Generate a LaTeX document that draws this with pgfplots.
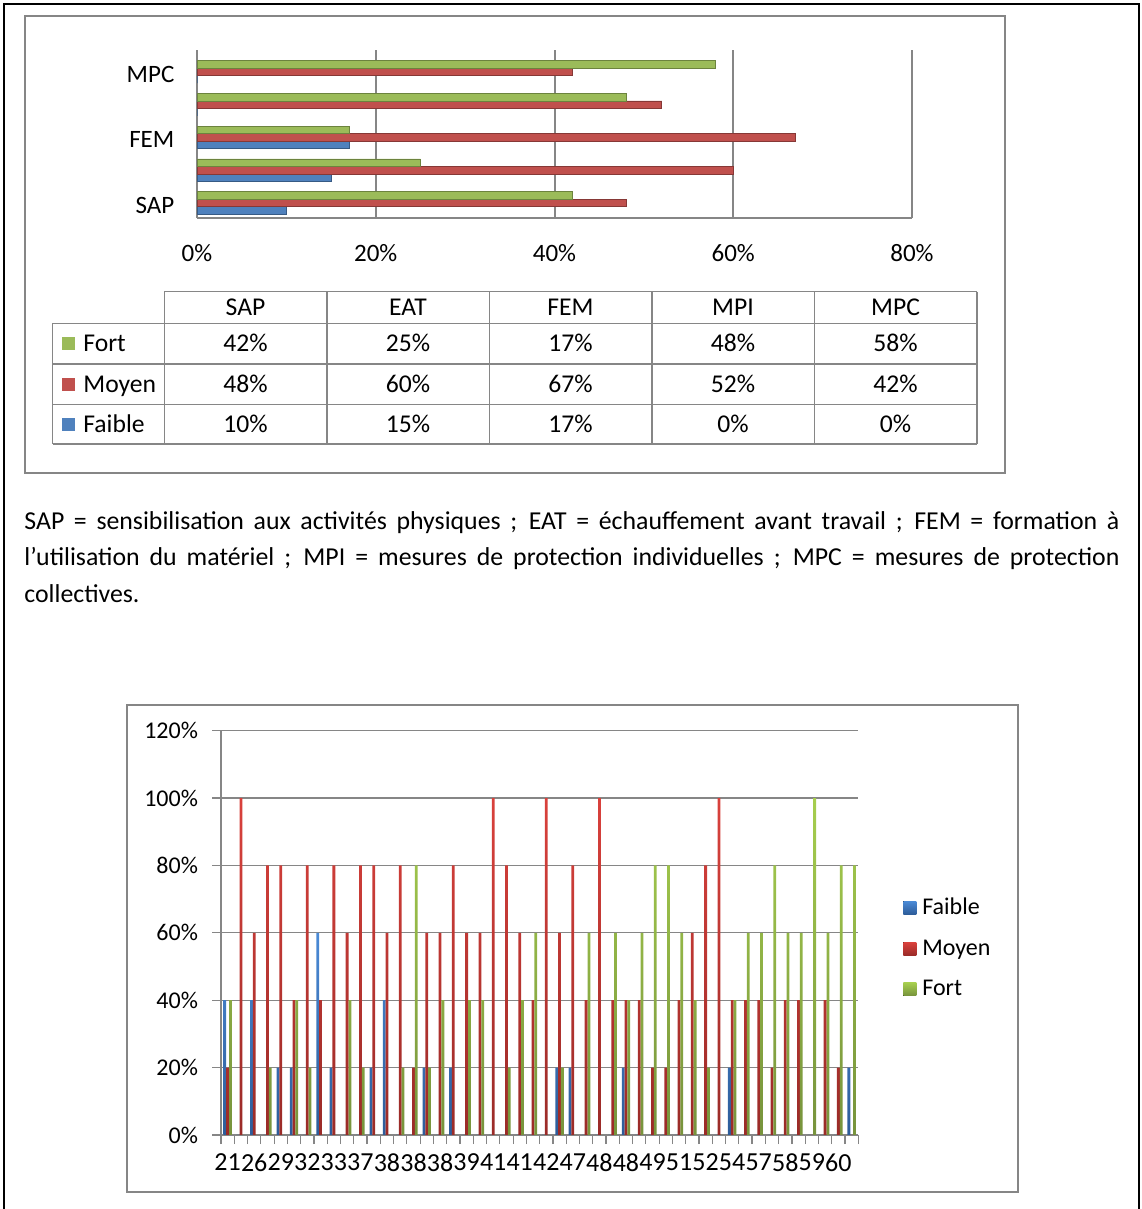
\documentclass[border=0pt]{standalone}
\usepackage{pgfplots}
\usepackage{pgfplotstable}
\usepackage{fontspec}
\setmainfont{Carlito}
\pgfplotsset{compat=1.18}

\definecolor{faible}{HTML}{4F81BD}
\definecolor{moyen}{HTML}{C0504D}
\definecolor{fort}{HTML}{9BBB59}
\definecolor{faibleTop}{HTML}{4A8AD6}
\definecolor{faibleBot}{HTML}{2D5C99}
\definecolor{moyenTop}{HTML}{D9413C}
\definecolor{moyenBot}{HTML}{9A2B28}
\definecolor{fortTop}{HTML}{A6CE4E}
\definecolor{fortBot}{HTML}{77933C}
\definecolor{frameGray}{HTML}{868686}

% Prevention measures: share of each level (%)
\pgfplotstableread{
idx cat faible moyen fort
0 SAP 10 48 42
1 EAT 15 60 25
2 FEM 17 67 17
3 MPI 0 52 48
4 MPC 0 42 58
}\mesures

% Distribution of levels for each participant (%)
\pgfplotstableread{
idx faible moyen fort
1 40 20 40
2 0 100 0
3 40 60 0
4 0 80 20
5 20 80 0
6 20 40 40
7 0 80 20
8 60 40 0
9 20 80 0
10 0 60 40
11 0 80 20
12 20 80 0
13 40 60 0
14 0 80 20
15 0 20 80
16 20 60 20
17 0 60 40
18 20 80 0
19 0 60 40
20 0 60 40
21 0 100 0
22 0 80 20
23 0 60 40
24 0 40 60
25 0 100 0
26 20 60 20
27 20 80 0
28 0 40 60
29 0 100 0
30 0 40 60
31 20 40 40
32 0 40 60
33 0 20 80
34 0 20 80
35 0 40 60
36 0 60 40
37 0 80 20
38 0 100 0
39 20 40 40
40 0 40 60
41 0 40 60
42 0 20 80
43 0 40 60
44 0 40 60
45 0 0 100
46 0 40 60
47 0 20 80
48 20 0 80
}\participants

\begin{document}
\begin{tikzpicture}
\path[use as bounding box] (0pt,0pt) rectangle (570.5pt,604.5pt);

% frames, data table and caption, in a top-down grid
\begin{scope}[x=0.5pt,y=-0.5pt,shift={(0pt,604.5pt)},
  font=\fontsize{12.8pt}{15pt}\selectfont]
  \draw[black, line width=1pt] (4,1215) -- (4,4) -- (1139,4) -- (1139,1215);
  \draw[frameGray, line width=1pt] (25,16) rectangle (1005,473);
  \draw[frameGray, line width=1pt] (127,705) rectangle (1018,1192);

  % data table below the bar chart
  \begin{scope}[frameGray, line width=0.75pt]
    \foreach \xx in {164.3,326.8,489.3,651.8,814.3,976.8}
      \draw (\xx,291.7) -- (\xx,444);
    \draw (52.7,323.3) -- (52.7,444);
    \draw (164.3,291.7) -- (976.8,291.7);
    \foreach \yy in {323.3,364,404.7,444}
      \draw (52.7,\yy) -- (976.8,\yy);
  \end{scope}
  \fill[fort]   (62,337) rectangle (75,350);
  \fill[moyen]  (62,378) rectangle (75,391);
  \fill[faible] (62,418) rectangle (75,431);
  \node[anchor=base west, inner sep=0pt] at (83,351.7) {Fort};
  \node[anchor=base west, inner sep=0pt] at (83,392.7) {Moyen};
  \node[anchor=base west, inner sep=0pt] at (83,432.7) {Faible};
  \foreach \c in {0,...,4}{
    \pgfmathsetmacro\cx{245.5+162.5*\c}
    \pgfplotstablegetelem{\c}{cat}\of\mesures
    \node[anchor=base, inner sep=0pt] at (\cx,315.5) {\pgfplotsretval};
    \pgfplotstablegetelem{\c}{fort}\of\mesures
    \node[anchor=base, inner sep=0pt] at (\cx,351.7) {\pgfplotsretval\%};
    \pgfplotstablegetelem{\c}{moyen}\of\mesures
    \node[anchor=base, inner sep=0pt] at (\cx,392.7) {\pgfplotsretval\%};
    \pgfplotstablegetelem{\c}{faible}\of\mesures
    \node[anchor=base, inner sep=0pt] at (\cx,432.7) {\pgfplotsretval\%};
  }

  % caption, first two lines justified to the full width
  \node[anchor=north west, inner sep=0pt, text width=547.5pt,
        font=\fontsize{12.9pt}{18.25pt}\selectfont] at (24,511) {%
    \spaceskip=0.226em plus 1fil\relax
    \hbox to 547.5pt{SAP = sensibilisation aux activités physiques ; EAT = échauffement avant travail ; FEM = formation à}\par
    \hbox to 547.5pt{l’utilisation du matériel ; MPI = mesures de protection individuelles ; MPC = mesures de protection}\par
    \spaceskip=0pt\relax
    collectives.};
\end{scope}

% horizontal bars: one group per measure
\begin{axis}[
  at={(98.5pt,495.5pt)}, anchor=south west,
  scale only axis, width=357.5pt, height=84pt,
  xmin=0, xmax=80, ymin=-0.46, ymax=4.67,
  xbar, bar width=0.229,
  xtick={0,20,...,80}, xticklabels={0\%,20\%,40\%,60\%,80\%},
  ytick={0,2,4}, yticklabels={SAP,FEM,MPC},
  xmajorgrids, major grid style={frameGray, line width=1pt},
  axis line style={draw=none},
  major tick length=0pt,
  tick label style={font=\fontsize{12.5pt}{15pt}\selectfont},
  xticklabel style={yshift=-9.5pt},
  yticklabel style={xshift=-7.8pt, yshift=-1.2pt},
  clip=false,
]
  \draw[frameGray, line width=1pt] (axis cs:0,-0.46) -- (axis cs:80,-0.46);
  \addplot[fill=faible, draw=faible!70!black, line width=0.4pt, bar shift=-0.229]
    table[x=faible, y=idx] {\mesures};
  \addplot[fill=moyen, draw=moyen!70!black, line width=0.4pt, bar shift=0]
    table[x=moyen, y=idx] {\mesures};
  \addplot[fill=fort, draw=fort!70!black, line width=0.4pt, bar shift=0.229]
    table[x=fort, y=idx] {\mesures};
\end{axis}

% vertical bars: one group per participant
\begin{axis}[
  at={(110.5pt,37pt)}, anchor=south west,
  scale only axis, width=318.65pt, height=202.15pt,
  xmin=0.5, xmax=48.5, ymin=0, ymax=120,
  ybar, bar width=0.21,
  axis x line*=bottom, axis y line*=left,
  axis line style={frameGray, line width=0.6pt, -},
  ytick={0,20,...,120},
  yticklabels={0\%,20\%,40\%,60\%,80\%,100\%,120\%},
  ymajorgrids, major grid style={frameGray, line width=0.6pt},
  xtick={0.5,1.5,...,48.5}, xticklabels={},
  extra x ticks={1,3,...,47},
  extra x tick labels={21,26,29,32,33,37,38,38,38,39,41,41,42,47,48,48,49,51,52,54,57,58,59,60},
  extra x tick style={major tick length=0pt, grid=none,
    tick label style={font=\fontsize{13pt}{15pt}\selectfont, yshift=-5.7pt}},
  tick align=outside, major tick length=4.5pt,
  tick style={frameGray, line width=0.6pt},
  yticklabel style={font=\fontsize{12pt}{14pt}\selectfont, xshift=-3.5pt},
  legend style={at={(1.07,0.462)}, anchor=west, draw=none, fill=none,
    inner sep=0pt, row sep=7pt, font=\fontsize{12pt}{14pt}\selectfont,
    /tikz/every odd column/.append style={column sep=1pt}},
  legend cell align=left,
  legend image code/.code={\fill[#1] (0pt,-3.25pt) rectangle (6.5pt,3.25pt);},
]
  \addplot[draw=none, top color=faibleTop, bottom color=faibleBot, bar shift=-0.21]
    table[x=idx, y=faible] {\participants};
  \addplot[draw=none, top color=moyenTop, bottom color=moyenBot, bar shift=0]
    table[x=idx, y=moyen] {\participants};
  \addplot[draw=none, top color=fortTop, bottom color=fortBot, bar shift=0.21]
    table[x=idx, y=fort] {\participants};
  \legend{Faible, Moyen, Fort}
\end{axis}
\end{tikzpicture}
\end{document}
